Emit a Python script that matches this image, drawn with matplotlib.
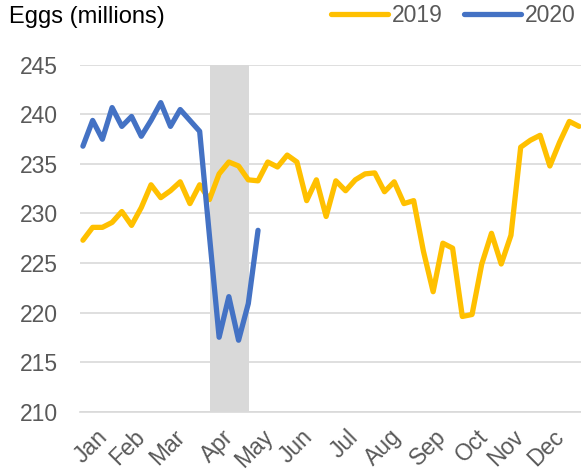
import matplotlib
matplotlib.use("Agg")
import matplotlib.pyplot as plt

plt.rcParams["font.family"] = ["Liberation Sans", "DejaVu Sans"]

# weekly egg counts (millions)
eggs_2019 = [227.3, 228.6, 228.6, 229.1, 230.2, 228.8, 230.6, 232.9, 231.6, 232.3,
             233.2, 231.0, 232.9, 231.4, 234.0, 235.2, 234.8, 233.4, 233.3, 235.2,
             234.7, 235.9, 235.2, 231.3, 233.4, 229.7, 233.3, 232.3, 233.4, 234.0,
             234.1, 232.2, 233.2, 231.0, 231.3, 226.2, 222.1, 227.0, 226.5, 219.6,
             219.8, 224.9, 228.0, 224.9, 227.8, 236.7, 237.4, 237.9, 234.8, 237.2,
             239.3, 238.8]
eggs_2020 = [236.8, 239.4, 237.5, 240.7, 238.8, 239.8, 237.8, 239.4, 241.2, 238.8,
             240.5, 239.4, 238.3, 227.8, 217.5, 221.6, 217.2, 220.9, 228.3]

month_labels = ["Jan", "Feb", "Mar", "Apr", "May", "Jun",
                "Jul", "Aug", "Sep", "Oct", "Nov", "Dec"]
month_weeks = [1.3, 5.2, 9.3, 14.3, 18.4, 22.4, 27.1, 31.5, 36.1, 40.4, 44.1, 48.2]

shade_start, shade_end = 13.1, 17.1

YELLOW = "#FFC000"
BLUE = "#4472C4"
GREY_TXT = "#595959"
FS = 16.5

fig = plt.figure(figsize=(5.81, 4.73), dpi=100)
ax = fig.add_axes([0.1377, 0.130, 0.8623, 0.7326])

ax.axvspan(shade_start, shade_end, color="#D9D9D9", lw=0, zorder=1)
ax.plot(range(len(eggs_2019)), eggs_2019, color=YELLOW, lw=3.8,
        solid_joinstyle="round", solid_capstyle="round", zorder=3, label="2019")
ax.plot(range(len(eggs_2020)), eggs_2020, color=BLUE, lw=3.8,
        solid_joinstyle="round", solid_capstyle="round", zorder=4, label="2020")

ax.set_ylim(210, 245)
ax.set_xlim(-0.3, 51.2)
ax.set_yticks(range(210, 246, 5))
ax.yaxis.grid(True, color="#D9D9D9", lw=1.2, zorder=0)
ax.set_axisbelow(True)
for s in ["top", "right", "left"]:
    ax.spines[s].set_visible(False)
ax.spines["bottom"].set_color("#D9D9D9")
ax.spines["bottom"].set_linewidth(1.2)
ax.tick_params(axis="y", length=0, labelsize=FS, labelcolor=GREY_TXT, pad=16)
ax.set_xticks(month_weeks)
ax.set_xticklabels(month_labels, rotation=45, ha="right", va="top",
                   rotation_mode="anchor")
ax.tick_params(axis="x", length=0, labelsize=FS, labelcolor=GREY_TXT, pad=10)

fig.text(0.015, 0.964, "Eggs (millions)", fontsize=17, color="black",
         ha="left", va="center")
fig.legend(loc="center right", bbox_to_anchor=(0.99, 0.968), ncol=2,
           frameon=False, fontsize=FS, labelcolor=GREY_TXT, handlelength=2.45,
           handletextpad=0.17, columnspacing=0.96, borderaxespad=0, borderpad=0)

fig.savefig("out.png", dpi=100)
